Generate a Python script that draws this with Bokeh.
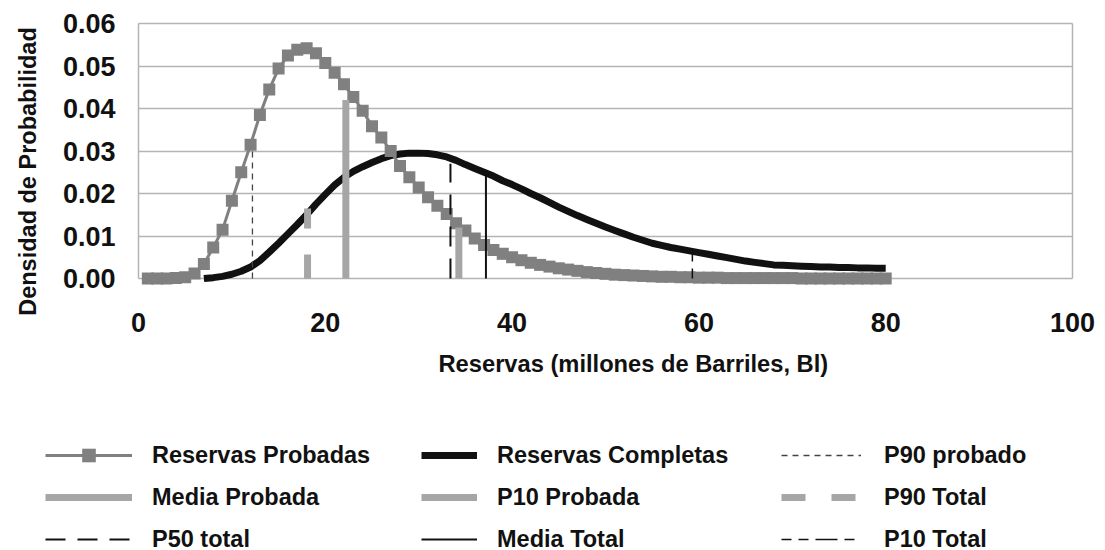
from math import pi
from bokeh.plotting import figure
from bokeh.models import (Range1d, FixedTicker, PrintfTickFormatter, LinearAxis,
                          Legend, LegendItem, Label)
from bokeh.embed import file_html
from bokeh.resources import INLINE

# ---------------- data ----------------
x_prob = list(range(1, 81))
y_prob = [0.0, 0.0, 0.0, 0.0001, 0.0003, 0.0012, 0.0034, 0.0073, 0.0115, 0.0183,
          0.0250, 0.0315, 0.0385, 0.0445, 0.0494, 0.0525, 0.0538, 0.0542, 0.0530, 0.0507,
          0.0484, 0.0457, 0.0427, 0.0395, 0.0358, 0.0332, 0.0300, 0.0265, 0.0238, 0.0214,
          0.0191, 0.0171, 0.0152, 0.0130, 0.0113, 0.0094, 0.0079, 0.0067, 0.0058, 0.0050,
          0.0043, 0.0037, 0.0032, 0.0028, 0.0024, 0.0021, 0.0018, 0.0015, 0.0013, 0.0011,
          0.0009, 0.0008, 0.0007, 0.0006, 0.0005, 0.0004, 0.0004, 0.0003, 0.0003, 0.0002,
          0.0002, 0.0002, 0.0001, 0.0001, 0.0001, 0.0001, 0.0001, 0.0001, 0.0001, 0.0001,
          0.0, 0.0, 0.0, 0.0, 0.0, 0.0, 0.0, 0.0, 0.0, 0.0]

x_comp = list(range(7, 81))
y_comp = [0.0000, 0.0002, 0.0005, 0.0010, 0.0017, 0.0027, 0.0042, 0.0062, 0.0083, 0.0105,
          0.0127, 0.0150, 0.0175, 0.0198, 0.0220, 0.0238, 0.0252, 0.0263, 0.0273, 0.0282,
          0.0289, 0.0293, 0.0295, 0.0295, 0.0294, 0.0291, 0.0286, 0.0278, 0.0268, 0.0259,
          0.0250, 0.0241, 0.0230, 0.0221, 0.0211, 0.0200, 0.0190, 0.0179, 0.0168, 0.0158,
          0.0148, 0.0139, 0.0130, 0.0121, 0.0113, 0.0105, 0.0097, 0.0090, 0.0083, 0.0078,
          0.0073, 0.0069, 0.0065, 0.0061, 0.0057, 0.0053, 0.0049, 0.0045, 0.0041, 0.0038,
          0.0035, 0.0032, 0.0031, 0.0030, 0.0029, 0.0028, 0.0027, 0.0027, 0.0026, 0.0026,
          0.0025, 0.0025, 0.0024, 0.0024]

line_names = ["P90 probado", "P90 Total", "Media Probada", "P50 total",
              "P10 Probada", "Media Total", "P10 Total"]
line_x = [12.2, 18.1, 22.2, 33.4, 34.3, 37.2, 59.3]
line_top = [0.031, 0.0165, 0.042, 0.027, 0.012, 0.0245, 0.0063]

x_ticks = [0, 20, 40, 60, 80, 100]
y_ticks = [0.0, 0.01, 0.02, 0.03, 0.04, 0.05, 0.06]
x_title = "Reservas (millones de Barriles, Bl)"
y_title = "Densidad de Probabilidad"
name_prob = "Reservas Probadas"
name_comp = "Reservas Completas"

# ---------------- layout (pixels) ----------------
W, H = 1100, 550
PLOT_L, PLOT_R = 138, 1072          # x = 0 and x = 100
PLOT_T, PLOT_B = 23, 278            # y = 0.06 and y = 0
X0, X1 = x_ticks[0], x_ticks[-1]
Y0, Y1 = y_ticks[0], y_ticks[-1]
px_x = (PLOT_R - PLOT_L) / (X1 - X0)
px_y = (PLOT_B - PLOT_T) / (Y1 - Y0)

# ---------------- styles ----------------
FONT = "Liberation Sans"
TXT = "#111111"
GRID = "#b4b4b4"
DARK_GRAY = "#808080"
LIGHT_GRAY = "#a6a6a6"
BLACK = "#111111"
line_styles = {
    "P90 probado": dict(line_color="#444444", line_width=1.3, line_dash="6 5"),
    "P90 Total": dict(line_color=LIGHT_GRAY, line_width=7, line_dash="24 26"),
    "Media Probada": dict(line_color=LIGHT_GRAY, line_width=7),
    "P50 total": dict(line_color=BLACK, line_width=2, line_dash="20 12"),
    "P10 Probada": dict(line_color=LIGHT_GRAY, line_width=7),
    "Media Total": dict(line_color=BLACK, line_width=2),
    "P10 Total": dict(line_color=BLACK, line_width=1.5, line_dash="10 7 10 7 22 7"),
}

# the frame covers the whole canvas so that legend and titles are not clipped;
# the axes are pinned to x = 0 / y = 0 inside it
p = figure(width=W, height=H, output_backend="svg", toolbar_location=None, tools="",
           x_range=Range1d(X0 - PLOT_L / px_x, X1 + (W - PLOT_R) / px_x),
           y_range=Range1d(Y0 - (H - PLOT_B) / px_y, Y1 + PLOT_T / px_y),
           min_border=0, min_border_left=0, min_border_right=0,
           min_border_top=0, min_border_bottom=0)
p.outline_line_color = None
p.background_fill_color = "white"
p.border_fill_color = "white"
p.grid.visible = False

xa = p.xaxis[0]
xa.fixed_location = Y0
xa.level = "underlay"
xa.ticker = FixedTicker(ticks=x_ticks)
xa.axis_line_color = None
xa.major_tick_line_color = None
xa.minor_tick_line_color = None
xa.major_tick_out = 0
xa.major_tick_in = 0
xa.minor_tick_out = 0
xa.major_label_standoff = 34
xa.major_label_text_font = FONT
xa.major_label_text_font_style = "bold"
xa.major_label_text_font_size = "27px"
xa.major_label_text_color = TXT

ya = p.yaxis[0]
ya.fixed_location = X0
ya.level = "underlay"
ya.ticker = FixedTicker(ticks=y_ticks)
ya.formatter = PrintfTickFormatter(format="%.2f")
ya.bounds = (Y0, Y1)
ya.axis_line_color = GRID
ya.axis_line_width = 1.5
# horizontal grid lines: the axis' ticks run across the plot area
ya.major_tick_in = PLOT_R - PLOT_L
ya.major_tick_out = 0
ya.major_tick_line_color = GRID
ya.major_tick_line_width = 1.5
ya.minor_tick_line_color = None
ya.minor_tick_out = 0
ya.minor_tick_in = 0
ya.major_label_standoff = 23
ya.major_label_text_font = FONT
ya.major_label_text_font_style = "bold"
ya.major_label_text_font_size = "27px"
ya.major_label_text_color = TXT

right_axis = LinearAxis(fixed_location=X1, level="underlay",
                        ticker=FixedTicker(ticks=[]), bounds=(Y0, Y1),
                        axis_line_color=GRID, axis_line_width=1.5,
                        major_tick_line_color=None, minor_tick_line_color=None,
                        major_tick_out=0, minor_tick_out=0, major_tick_in=0, minor_tick_in=0)
p.add_layout(right_axis, "right")

# axis titles
p.add_layout(Label(x=438, y=H - 363, x_units="screen", y_units="screen", text=x_title,
                   text_font=FONT, text_font_style="bold", text_font_size="23.7px",
                   text_align="left", text_baseline="middle", text_color=TXT))
p.add_layout(Label(x=27, y=H - 171, x_units="screen", y_units="screen", text=y_title,
                   angle=pi / 2, text_font=FONT, text_font_style="bold",
                   text_font_size="23.5px", text_align="center",
                   text_baseline="middle", text_color=TXT))

# series
renderers = {}
renderers[name_comp] = [p.line(x_comp, y_comp, line_color=BLACK, line_width=7,
                               line_join="round")]
renderers[name_prob] = [p.line(x_prob, y_prob, line_color=DARK_GRAY, line_width=3),
                        p.scatter(x_prob, y_prob, marker="square", size=12,
                                  fill_color=DARK_GRAY, line_color=None)]
for name, xv, top in zip(line_names, line_x, line_top):
    renderers[name] = [p.segment(x0=[xv], y0=[0], x1=[xv], y1=[top], **line_styles[name])]

# legend: three columns
legend_columns = [
    ([name_prob, "Media Probada", "P50 total"], 45, 87, 20),
    ([name_comp, "P10 Probada", "Media Total"], 421, 56, 20),
    (["P90 probado", "P90 Total", "P10 Total"], 781, 80, 23),
]
for labels, vx, gw, so in legend_columns:
    leg = Legend(items=[LegendItem(label=lab, renderers=renderers[lab]) for lab in labels],
                 location=(vx, -6), orientation="vertical",
                 glyph_width=gw, glyph_height=34, label_height=34, label_standoff=so,
                 spacing=8, padding=0, margin=0,
                 border_line_color=None, background_fill_alpha=0,
                 label_text_font=FONT, label_text_font_style="bold",
                 label_text_font_size="23.5px", label_text_color=TXT)
    p.add_layout(leg, "center")

open("out.html", "w").write(file_html(p, INLINE))
